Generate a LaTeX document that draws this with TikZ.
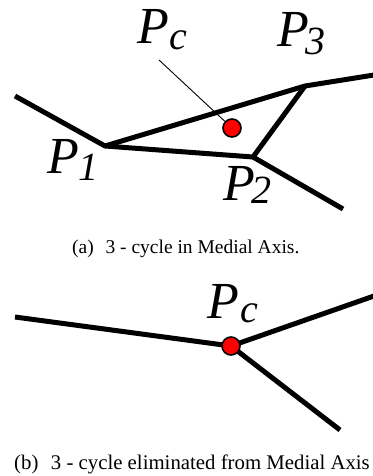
\documentclass[tikz,border=0pt]{standalone}
\usepackage{fontspec}
\setmainfont{Liberation Serif}
\newcommand\plab[3]{\fontsize{52}{52}\selectfont\itshape P\kern#1pt\raisebox{-#2pt}{\fontsize{40}{40}\selectfont #3}}
\begin{document}
\begin{tikzpicture}[x=1pt,y=-1pt,
  medax/.style={line width=5pt,line join=round},
  leader/.style={line width=0.9pt},
  reddot/.style={circle,fill=red,draw=black,line width=1.6pt,minimum size=18pt,inner sep=0pt},
  ptlab/.style={anchor=base west,inner sep=0pt},
  captext/.style={anchor=base west,inner sep=0pt,font=\fontsize{19.5}{22}\selectfont}]
\useasboundingbox (0,0) rectangle (372,476);
% (a)
\coordinate (a0) at (15,96);
\coordinate (p1) at (105,146);
\coordinate (p3) at (305,86);
\coordinate (p3e) at (374,75);
\coordinate (p2) at (253,157);
\coordinate (p2e) at (343,209);
\coordinate (ls) at (159,60);
\draw[medax] (a0) -- (p1) -- (p3) -- (p3e);
\draw[medax] (p1) -- (p2) -- (p3);
\draw[medax] (p2) -- (p2e);
\node[reddot] (pc) at (232,128) {};
\draw[leader] (ls) -- (pc);
\node[ptlab] (lpc) at (137,44) {\plab{1}{6}{c}};
\node[ptlab] (lp3) at (277,47) {\plab{-3}{8}{3}};
\node[ptlab] (lp1) at (47,173) {\plab{0}{7}{1}};
\node[ptlab] (lp2) at (223,200) {\plab{-3}{3}{2}};
\node[captext] (capa) at (72,253) {(a)\hspace{0.6em}3 - cycle in Medial Axis.};
% (b)
\coordinate (b0) at (15,317);
\coordinate (b1) at (374,296);
\coordinate (b2) at (340,430);
\coordinate (bc) at (231,346);
\draw[medax] (b0) -- (bc) -- (b1);
\draw[medax] (bc) -- (b2);
\node[reddot] (pcb) at (bc) {};
\node[ptlab] (lpcb) at (207,318) {\plab{2}{4}{c}};
\node[captext,font=\fontsize{20.8}{23}\selectfont] (capb) at (14,469) {(b)\hspace{0.6em}3 - cycle eliminated from Medial Axis};
\end{tikzpicture}
\end{document}
